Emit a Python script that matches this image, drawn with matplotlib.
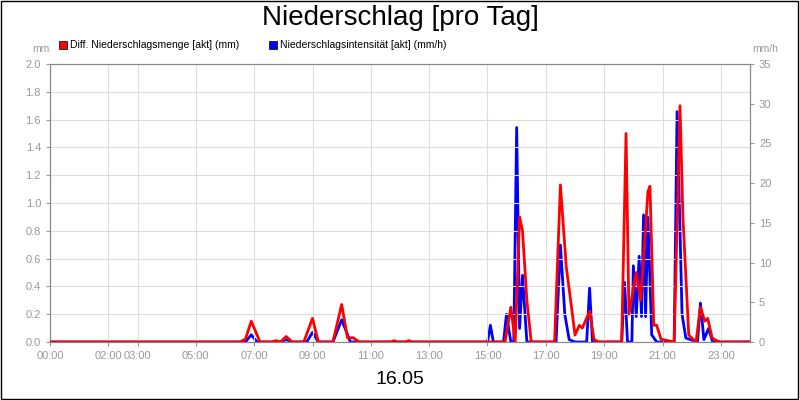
import matplotlib
matplotlib.use("Agg")
import matplotlib.pyplot as plt
from matplotlib.patches import Rectangle

plt.rcParams['font.family'] = ['Liberation Sans', 'DejaVu Sans']

# red: Diff. Niederschlagsmenge (mm), hours
red_h = [0, 6.5, 6.7, 6.9, 7.2, 7.6, 7.75, 7.9, 8.1, 8.3, 8.7, 9.0, 9.2, 9.7, 10.0, 10.2, 10.4, 10.6,
         11.7, 11.8, 11.9, 12.2, 12.3, 12.4, 15.6, 15.8, 15.95, 16.1, 16.2, 16.35, 16.5,
         17.3, 17.5, 17.7, 17.85, 18.0, 18.15, 18.25, 18.5, 18.65, 18.8,
         19.6, 19.75, 19.85, 20.1, 20.25, 20.35, 20.5, 20.57, 20.7, 20.8, 20.95,
         21.4, 21.6, 21.7, 21.9, 22.15, 22.3, 22.45, 22.55, 22.7, 22.85, 23.0, 24.0]
red_v = [0, 0, 0.02, 0.15, 0, 0, 0.01, 0, 0.04, 0, 0, 0.17, 0, 0, 0.27, 0.03, 0.03, 0,
         0, 0.01, 0, 0, 0.01, 0, 0, 0.25, 0, 0.9, 0.8, 0.3, 0,
         0, 1.13, 0.54, 0.3, 0.05, 0.12, 0.1, 0.22, 0.02, 0,
         0, 1.5, 0.2, 0.5, 0.3, 0.6, 1.08, 1.12, 0.12, 0.12, 0.02,
         0, 1.7, 0.9, 0.05, 0, 0.25, 0.15, 0.17, 0.03, 0.01, 0, 0]

# blue: Niederschlagsintensität (mm/h), hours
blue_h = [0, 6.7, 6.9, 7.1, 7.9, 8.1, 8.3, 8.8, 9.0, 9.2, 9.7, 10.0, 10.3,
          15.0, 15.1, 15.2, 15.55, 15.65, 15.8, 15.9, 16.0, 16.1, 16.2, 16.35, 16.5,
          17.35, 17.5, 17.65, 17.8, 18.0, 18.4, 18.5, 18.6,
          19.6, 19.7, 19.8, 19.95, 20.0, 20.1, 20.2, 20.28, 20.35, 20.42, 20.5, 20.63, 20.8,
          21.4, 21.5, 21.67, 21.8, 22.2, 22.3, 22.42, 22.58, 22.72, 24.0]
blue_v = [0, 0, 0.9, 0, 0, 0.3, 0, 0, 1.2, 0, 0, 2.8, 0,
          0, 2.1, 0, 0, 3.5, 0, 0, 27, 1.7, 8.4, 0, 0,
          0, 12.2, 3.5, 0.3, 0, 0, 6.8, 0,
          0, 7.5, 0, 0, 9.6, 3.2, 10.8, 3.2, 16, 3.2, 15.7, 0.9, 0,
          0, 29, 3.5, 0.5, 0, 4.9, 0.3, 1.7, 0, 0]

xticks = [0, 2, 3, 5, 7, 9, 11, 13, 15, 17, 19, 21, 23]
xlabels = ["00:00", "02:00", "03:00", "05:00", "07:00", "09:00", "11:00", "13:00",
           "15:00", "17:00", "19:00", "21:00", "23:00"]

fig = plt.figure(figsize=(8, 4), dpi=100)
fig.patches.append(Rectangle((0.001, 0.002), 0.997, 0.996, transform=fig.transFigure,
                             fill=False, edgecolor="black", linewidth=1))
ax = fig.add_axes([0.0625, 0.145, 0.875, 0.695])
ax2 = ax.twinx()
ax.plot(red_h, red_v, color="#ff0000", lw=2, zorder=3)
ax2.plot(blue_h, blue_v, color="#0000ff", lw=2, zorder=2)
ax.set_zorder(ax2.get_zorder() + 1)
ax.patch.set_visible(False)

ax.set_xlim(0, 24)
ax.set_ylim(0, 2.0)
ax2.set_ylim(0, 35)
ax.set_yticks([i * 0.2 for i in range(11)])
ax.set_yticklabels([f"{i*0.2:.1f}" for i in range(11)])
ax2.set_yticks(range(0, 36, 5))
ax.set_xticks(xticks)
ax.set_xticklabels(xlabels)
ax.grid(True, color="#dddddd", lw=0.8)
for a in (ax, ax2):
    a.tick_params(colors="#999999", labelsize=8, length=3)
    for s in a.spines.values():
        s.set_color("#888888")

fig.text(0.5, 0.955, "Niederschlag [pro Tag]", ha="center", va="center", fontsize=20)
fig.text(0.04, 0.878, "mm", fontsize=7.5, color="#999999", ha="left", va="center")
fig.text(0.94, 0.878, "mm/h", fontsize=7.5, color="#999999", ha="left", va="center")
fig.text(0.5, 0.05, "16.05", fontsize=14, ha="center", va="center")

fig.patches.append(Rectangle((0.074, 0.877), 0.01, 0.02, transform=fig.transFigure,
                             facecolor="#ff0000", edgecolor="black", lw=0.5))
fig.text(0.088, 0.888, "Diff. Niederschlagsmenge [akt] (mm)", fontsize=7.5, va="center")
fig.patches.append(Rectangle((0.336, 0.877), 0.01, 0.02, transform=fig.transFigure,
                             facecolor="#0000ff", edgecolor="black", lw=0.5))
fig.text(0.35, 0.888, "Niederschlagsintensität [akt] (mm/h)", fontsize=7.5, va="center")

fig.savefig("out.png", dpi=100)
